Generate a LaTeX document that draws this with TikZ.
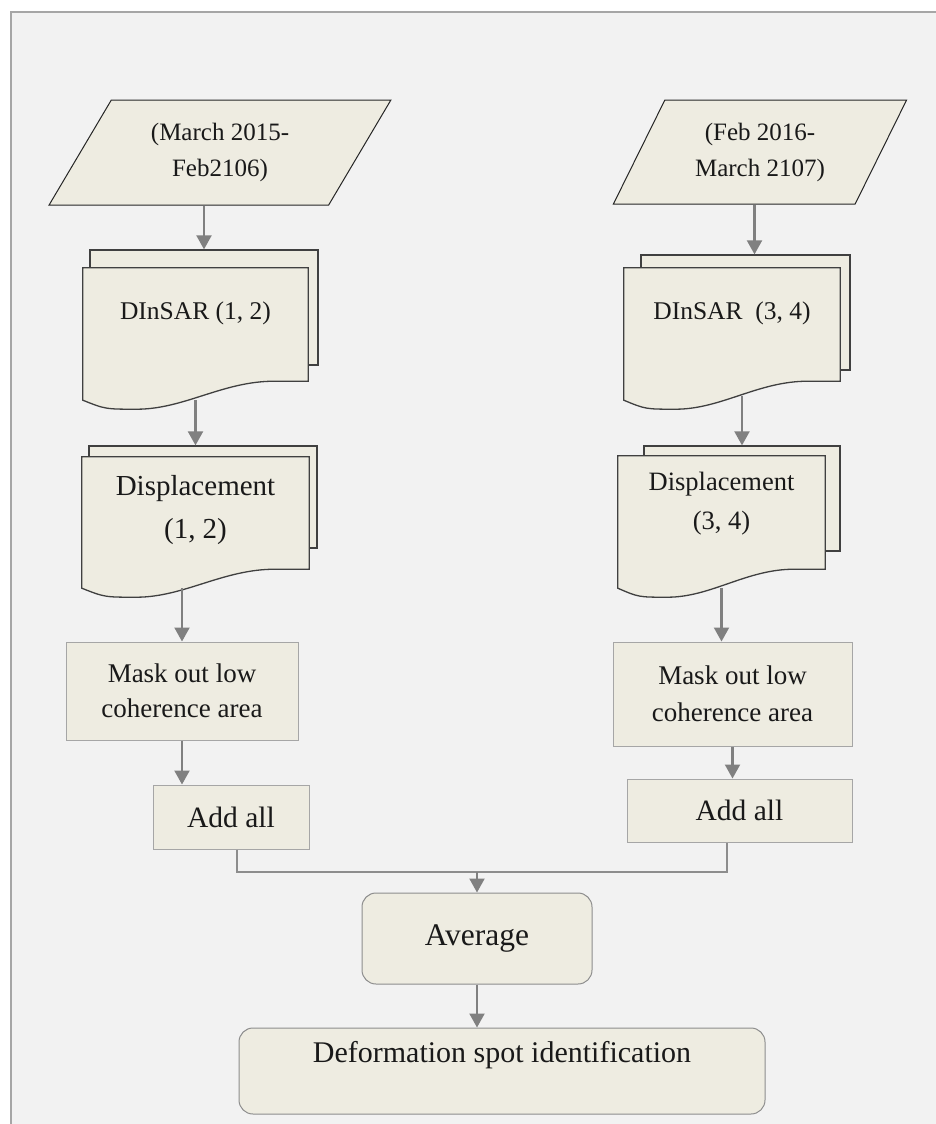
\documentclass[tikz,border=0pt]{standalone}
\usepackage{fontspec}
\setmainfont{Liberation Serif}
\usetikzlibrary{shapes.geometric, arrows.meta, positioning, calc, backgrounds}

\definecolor{pagegray}{HTML}{F2F2F2}
\definecolor{tanfill}{HTML}{EEECE1}
\definecolor{linkgray}{HTML}{808080}
\definecolor{sheetline}{HTML}{404040}
\definecolor{boxline}{HTML}{A6A6A6}

% front sheet of a document symbol, wavy bottom hanging under the node
\newcommand{\wavysheet}[1]{%
  \path[draw=sheetline, fill=tanfill, line width=1.3pt]
    let \p1=(#1.north west), \p2=(#1.south east) in
    (\x1,\y1) -- (\x2,\y1) -- (\x2,\y2) -- (\x1+0.85*\x2-0.85*\x1,\y2)
    .. controls (\x1+0.62*\x2-0.62*\x1,\y2) and (\x1+0.45*\x2-0.45*\x1,\y2-28pt) .. (\x1+0.24*\x2-0.24*\x1,\y2-28pt)
    .. controls (\x1+0.1*\x2-0.1*\x1,\y2-28pt) .. (\x1,\y2-19pt) -- cycle;
  \coordinate (#1-out) at ([yshift=-19pt]#1.south);}

\begin{document}
\begin{tikzpicture}[x=1pt, y=-1pt,
  every node/.style={font=\fontsize{25}{36}\selectfont, text=black!90, align=center, inner sep=2pt},
  datain/.style={trapezium, trapezium stretches=true, draw=black!85, fill=tanfill, line width=1pt},
  backsheet/.style={rectangle, draw=sheetline, fill=tanfill, line width=1.3pt},
  sheettext/.style={rectangle},
  process/.style={rectangle, draw=boxline, fill=tanfill, line width=1pt},
  roundbox/.style={rectangle, rounded corners=14pt, draw=linkgray!90, fill=tanfill, line width=1pt},
  arr/.style={draw=linkgray, line width=2.1pt, -{Triangle[length=14pt,width=15pt]}},
  link/.style={draw=linkgray!90, line width=1.7pt}
]
\useasboundingbox (0,0) rectangle (936,1124);

\begin{pgfonlayer}{background}
  \fill[pagegray] (11,12) rectangle (936,1124);
  \draw[boxline, line width=1.5pt] (11,1124) -- (11,12) -- (936,12);
\end{pgfonlayer}

% inputs
\node[datain, trapezium left angle=57, trapezium right angle=123, minimum width=342pt, minimum height=105pt] (inL) at (220,152.5) {(March 2015-\\Feb2106)};
\node[datain, trapezium left angle=60, trapezium right angle=120, minimum width=294pt, minimum height=104pt] (inR) at (760,152) {(Feb 2016-\\March 2107)};

% documents
\node[sheettext, minimum width=225pt, minimum height=113pt, text depth=28pt, font=\fontsize{25.5}{36}\selectfont] (dinL) at (195.5,324.5) {DInSAR (1, 2)};
\node[sheettext, minimum width=227pt, minimum height=112pt, text depth=12pt, font=\fontsize{29}{43}\selectfont] (dispL) at (195.5,513) {Displacement\\(1, 2)};
\node[sheettext, minimum width=216pt, minimum height=113pt, text depth=28pt, font=\fontsize{25.5}{36}\selectfont] (dinR) at (732,324.5) {DInSAR~ (3, 4)};
\node[sheettext, minimum width=207pt, minimum height=113pt, text depth=23pt, font=\fontsize{26.5}{39}\selectfont] (dispR) at (721.5,512.5) {Displacement\\(3, 4)};

\begin{pgfonlayer}{background}
  \node[backsheet, minimum width=228pt, minimum height=115pt] (dinLb) at (204,307.5) {};
  \node[backsheet, minimum width=228pt, minimum height=102pt] (dispLb) at (203,497) {};
  \node[backsheet, minimum width=209pt, minimum height=115pt] (dinRb) at (745.5,312.5) {};
  \node[backsheet, minimum width=196pt, minimum height=105pt] (dispRb) at (742,498.5) {};
  \wavysheet{dinL}
  \wavysheet{dispL}
  \wavysheet{dinR}
  \wavysheet{dispR}
\end{pgfonlayer}

% processing
\node[process, minimum width=232pt, minimum height=98pt, font=\fontsize{27}{35}\selectfont] (maskL) at (182,691) {Mask out low\\coherence area};
\node[process, minimum width=239pt, minimum height=104pt, font=\fontsize{27}{37}\selectfont] (maskR) at (732.5,694) {Mask out low\\coherence area};
\node[process, minimum width=156pt, minimum height=64pt, font=\fontsize{29.5}{36}\selectfont] (addL) at (231,817) {Add all};
\node[process, minimum width=225pt, minimum height=63pt, font=\fontsize{29.5}{36}\selectfont] (addR) at (739.5,810.5) {Add all};
\node[roundbox, minimum width=230pt, minimum height=91pt, font=\fontsize{31.5}{36}\selectfont] (avg) at (477,938.5) {Average};
\node[roundbox, minimum width=526pt, minimum height=86pt, text depth=39pt, font=\fontsize{30}{36}\selectfont] (defo) at (502,1071) {Deformation spot identification};

% connectors
\draw[arr] (inL.south -| dinLb.north) -- (dinLb.north);
\draw[arr] ([xshift=9pt]dinRb.north |- inR.south) -- ([xshift=9pt]dinRb.north);
\draw[arr] (dinL-out) -- (dinL-out |- dispLb.north);
\draw[arr] ([yshift=4pt]dispRb.north |- dinR-out) -- (dispRb.north);
\draw[arr] (maskL.north |- dispL-out) -- (maskL.north);
\draw[arr] (dispR-out) -- (dispR-out |- maskR.north);
\draw[arr] (maskL.south) -- (maskL.south |- addL.north);
\draw[arr] (maskR.south) -- (maskR.south |- addR.north);
\coordinate (merge) at (477,872);
\draw[link] ([xshift=6pt]addL.south) |- (merge) -| ([xshift=-12.5pt]addR.south);
\draw[arr] (merge) -- (avg.north);
\draw[arr] (avg.south) -- (avg.south |- defo.north);

\end{tikzpicture}
\end{document}
